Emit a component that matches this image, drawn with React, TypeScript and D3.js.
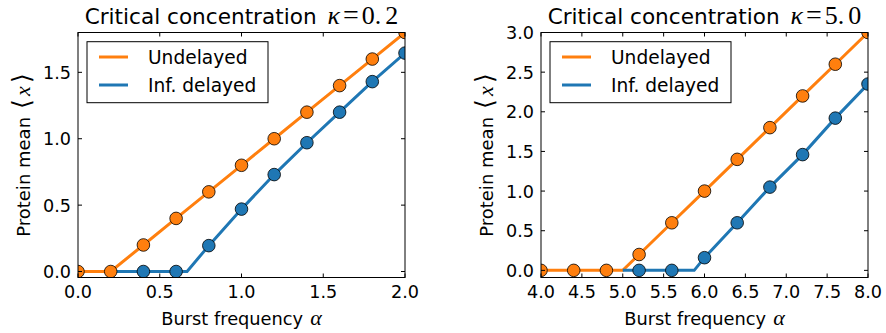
import React from "react";
import * as d3 from "d3";

// kappa = 0.2
const leftAlpha = [0, 0.2, 0.4, 0.6, 0.8, 1.0, 1.2, 1.4, 1.6, 1.8, 2.0];
const leftUndelayed = [0, 0, 0.2, 0.4, 0.6, 0.8, 1.0, 1.2, 1.4, 1.6, 1.8];
const leftDelayedAlpha = [0.4, 0.6, 0.8, 1.0, 1.2, 1.4, 1.6, 1.8, 2.0];
const leftDelayed = [0, 0, 0.195, 0.47, 0.73, 0.97, 1.2, 1.43, 1.645];
// curve for the delayed line (starts at the undelayed threshold, kinks at its own)
const leftDelayedCurveAlpha = [0.2, 0.4, 0.6, 0.667, 0.8, 1.0, 1.2, 1.4, 1.6, 1.8, 2.0];
const leftDelayedCurve = [0, 0, 0, 0, 0.195, 0.47, 0.73, 0.97, 1.2, 1.43, 1.645];
const leftXTicks = [0, 0.5, 1.0, 1.5, 2.0];
const leftYTicks = [0, 0.5, 1.0, 1.5];

// kappa = 5.0
const rightAlpha = [4.0, 4.4, 4.8, 5.2, 5.6, 6.0, 6.4, 6.8, 7.2, 7.6, 8.0];
const rightUndelayed = [0, 0, 0, 0.2, 0.6, 1.0, 1.4, 1.8, 2.2, 2.6, 3.0];
const rightUndelayedCurveAlpha = [4.0, 4.4, 4.8, 5.0, 5.2, 5.6, 6.0, 6.4, 6.8, 7.2, 7.6, 8.0];
const rightUndelayedCurve = [0, 0, 0, 0, 0.2, 0.6, 1.0, 1.4, 1.8, 2.2, 2.6, 3.0];
const rightDelayedAlpha = [5.2, 5.6, 6.0, 6.4, 6.8, 7.2, 7.6, 8.0];
const rightDelayed = [0, 0, 0.16, 0.6, 1.05, 1.46, 1.92, 2.35];
const rightDelayedCurveAlpha = [5.0, 5.2, 5.6, 5.874, 6.0, 6.4, 6.8, 7.2, 7.6, 8.0];
const rightDelayedCurve = [0, 0, 0, 0, 0.16, 0.6, 1.05, 1.46, 1.92, 2.35];
const rightXTicks = [4.0, 4.5, 5.0, 5.5, 6.0, 6.5, 7.0, 7.5, 8.0];
const rightYTicks = [0, 0.5, 1.0, 1.5, 2.0, 2.5, 3.0];

const ORANGE = "#ff7f0e";
const BLUE = "#1f77b4";
const FONT = "DejaVu Sans";
const MATH = "Liberation Serif";

type Pt = [number, number];
const zip = (xs: number[], ys: number[]): Pt[] => xs.map((x, i) => [x, ys[i]]);

function Panel(props: any) {
  const { id, left, xDomain, yDomain, xTicks, yTicks, kappa, orangeCurve, orangePts, blueCurve, bluePts } = props;
  const top = 32.5;
  const bottom = 277.5;
  const right = left + 327;
  const x = d3.scaleLinear().domain(xDomain).range([left, right]);
  const y = d3.scaleLinear().domain(yDomain).range([bottom, top]);
  const line = d3.line<Pt>().x((d) => x(d[0])).y((d) => y(d[1]));
  const cx = (left + right) / 2;
  const tl = 4;
  const lgX = left + 9;
  const [kInt, kDec] = kappa.split(".");

  return (
    <g>
      <defs>
        <clipPath id={id}>
          <rect x={left} y={top} width={right - left} height={bottom - top} />
        </clipPath>
      </defs>
      <g clipPath={`url(#${id})`}>
        <path d={line(orangeCurve) || ""} fill="none" stroke={ORANGE} strokeWidth={3} />
        <path d={line(blueCurve) || ""} fill="none" stroke={BLUE} strokeWidth={3} />
        {orangePts.map((d: Pt, i: number) => (
          <circle key={"o" + i} cx={x(d[0])} cy={y(d[1])} r={6.3} fill={ORANGE} stroke="#000" strokeWidth={0.8} />
        ))}
        {bluePts.map((d: Pt, i: number) => (
          <circle key={"b" + i} cx={x(d[0])} cy={y(d[1])} r={6.3} fill={BLUE} stroke="#000" strokeWidth={0.8} />
        ))}
      </g>
      <rect x={left} y={top} width={right - left} height={bottom - top} fill="none" stroke="#000" strokeWidth={1} />
      {xTicks.map((t: number) => (
        <g key={"x" + t}>
          <line x1={x(t)} x2={x(t)} y1={bottom} y2={bottom - tl} stroke="#000" />
          <line x1={x(t)} x2={x(t)} y1={top} y2={top + tl} stroke="#000" />
          <text x={x(t)} y={298} textAnchor="middle" fontFamily={FONT} fontSize={17.6}>
            {t.toFixed(1)}
          </text>
        </g>
      ))}
      {yTicks.map((t: number) => (
        <g key={"y" + t}>
          <line x1={left} x2={left + tl} y1={y(t)} y2={y(t)} stroke="#000" />
          <line x1={right} x2={right - tl} y1={y(t)} y2={y(t)} stroke="#000" />
          <text x={left - 7} y={y(t) + 6.5} textAnchor="end" fontFamily={FONT} fontSize={17.6}>
            {t.toFixed(1)}
          </text>
        </g>
      ))}
      <text x={cx} y={24} textAnchor="middle" fontFamily={FONT} fontSize={21.6}>
        Critical concentration
        <tspan dx={11} fontFamily={MATH} fontStyle="italic" fontSize={26}>κ</tspan>
        <tspan dx={3} fontFamily={MATH} fontSize={28}>=</tspan>
        <tspan dx={3} fontFamily={MATH} fontSize={26}>{kInt + "."}</tspan>
        <tspan dx={4} fontFamily={MATH} fontSize={26}>{kDec}</tspan>
      </text>
      <text x={cx} y={325} textAnchor="middle" fontFamily={FONT} fontSize={17.8}>
        Burst frequency
        <tspan dx={7} fontFamily={MATH} fontStyle="italic" fontSize={22}>α</tspan>
      </text>
      <text
        transform={`translate(${left - 48},${(top + bottom) / 2}) rotate(-90)`}
        textAnchor="middle"
        fontFamily={FONT}
        fontSize={18}
      >
        Protein mean
        <tspan dx={8} fontFamily={MATH} fontSize={25}>⟨</tspan>
        <tspan dx={3} fontFamily={MATH} fontStyle="italic" fontSize={22}>x</tspan>
        <tspan dx={3} fontFamily={MATH} fontSize={25}>⟩</tspan>
      </text>
      <rect x={lgX} y={41.7} width={181} height={61} fill="#fff" stroke="#000" strokeWidth={1} />
      <line x1={lgX + 12} x2={lgX + 41} y1={57} y2={57} stroke={ORANGE} strokeWidth={3} />
      <line x1={lgX + 12} x2={lgX + 41} y1={85} y2={85} stroke={BLUE} strokeWidth={3} />
      <text x={lgX + 61} y={63.5} fontFamily={FONT} fontSize={18.6}>Undelayed</text>
      <text x={lgX + 61} y={91.5} fontFamily={FONT} fontSize={18.6}>Inf. delayed</text>
    </g>
  );
}

export default function App() {
  return (
    <svg width={886} height={333} style={{ position: "absolute", left: 0, top: 0, background: "#fff" }}>
      <Panel
        id="clipL"
        left={78}
        xDomain={[0, 2]}
        yDomain={[-0.045, 1.8]}
        xTicks={leftXTicks}
        yTicks={leftYTicks}
        kappa="0.2"
        orangeCurve={zip(leftAlpha, leftUndelayed)}
        orangePts={zip(leftAlpha, leftUndelayed)}
        blueCurve={zip(leftDelayedCurveAlpha, leftDelayedCurve)}
        bluePts={zip(leftDelayedAlpha, leftDelayed)}
      />
      <Panel
        id="clipR"
        left={541}
        xDomain={[4, 8]}
        yDomain={[-0.09, 3.0]}
        xTicks={rightXTicks}
        yTicks={rightYTicks}
        kappa="5.0"
        orangeCurve={zip(rightUndelayedCurveAlpha, rightUndelayedCurve)}
        orangePts={zip(rightAlpha, rightUndelayed)}
        blueCurve={zip(rightDelayedCurveAlpha, rightDelayedCurve)}
        bluePts={zip(rightDelayedAlpha, rightDelayed)}
      />
    </svg>
  );
}
